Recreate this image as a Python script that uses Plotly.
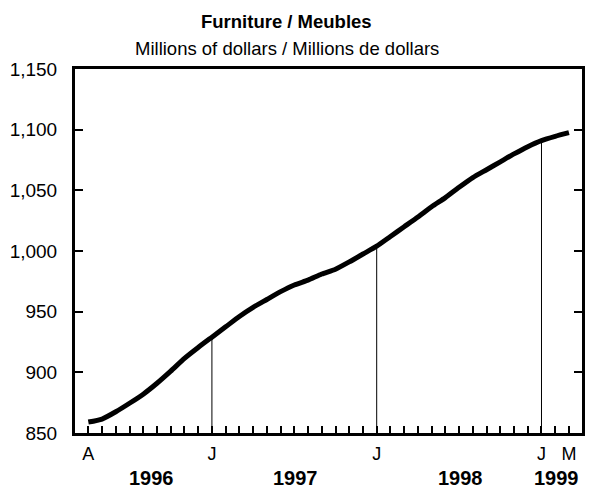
import plotly.graph_objects as go

# Month index: 0 = April 1996 ... 35 = March 1999
months = list(range(36))
values = [859, 861.5, 867.5, 874.5, 882, 891, 901, 911.5, 920.5, 929,
          937.5, 946, 953.5, 960, 966.5, 972, 976, 981, 985, 991,
          997.5, 1004, 1012, 1020, 1028, 1036.5, 1044, 1052.5, 1060.5, 1067,
          1073.5, 1080, 1086, 1091, 1094.5, 1097.5]

tick_labels = {0: "A", 9: "J", 21: "J", 33: "J", 35: "M"}
year_labels = ["1996", "1997", "1998", "1999"]
year_pos = [4.6, 15.1, 27.1, 34.1]
drop_months = [9, 21, 33]

y_ticks = [850, 900, 950, 1000, 1050, 1100, 1150]
y_ticktext = ["850", "900", "950", "1,000", "1,050", "1,100", "1,150"]

FONT = "Liberation Sans, Arial, sans-serif"

fig = go.Figure()

for m in drop_months:
    fig.add_trace(go.Scatter(x=[m, m], y=[850, values[m]], mode="lines",
                             line=dict(color="black", width=1),
                             hoverinfo="skip", showlegend=False))

fig.add_trace(go.Scatter(x=months, y=values, mode="lines",
                         line=dict(color="black", width=5, shape="spline", smoothing=0.6),
                         showlegend=False))

fig.update_xaxes(range=[-0.97, 35.95], tickmode="array", tickvals=months,
                 ticktext=[tick_labels.get(m, "") for m in months],
                 ticks="inside", ticklen=7, tickwidth=2, tickcolor="black",
                 showline=True, linecolor="black", linewidth=3, mirror=True,
                 showgrid=False, zeroline=False, automargin=False,
                 ticklabelstandoff=2,
                 tickfont=dict(family=FONT, size=18, color="black"))
fig.update_yaxes(range=[850, 1150], tickmode="array", tickvals=y_ticks,
                 ticktext=y_ticktext, ticks="inside", ticklen=8, tickwidth=2,
                 tickcolor="black", showline=True, linecolor="black", linewidth=3,
                 mirror="ticks", showgrid=False, zeroline=False, automargin=False,
                 ticklabelstandoff=11,
                 tickfont=dict(family=FONT, size=19, color="black"))

for lab, pos in zip(year_labels, year_pos):
    fig.add_annotation(x=pos, y=0, xref="x", yref="paper", yanchor="middle",
                       yshift=-45, text=f"<b>{lab}</b>", showarrow=False,
                       font=dict(family=FONT, size=20, color="black"))

fig.add_annotation(x=0.418, y=1, xref="paper", yref="paper", yanchor="middle",
                   yshift=48, text="<b>Furniture / Meubles</b>", showarrow=False,
                   font=dict(family=FONT, size=18.5, color="black"))
fig.add_annotation(x=0.418, y=1, xref="paper", yref="paper", yanchor="middle",
                   yshift=21, text="Millions of dollars / Millions de dollars",
                   showarrow=False,
                   font=dict(family=FONT, size=18.5, color="black"))

fig.update_layout(width=597, height=491, margin=dict(l=75, r=15, t=69, b=58),
                  paper_bgcolor="white", plot_bgcolor="white")

fig.write_html("out.html", config={"displayModeBar": False},
               post_script="document.body.style.margin='0';document.body.style.overflow='hidden';")
